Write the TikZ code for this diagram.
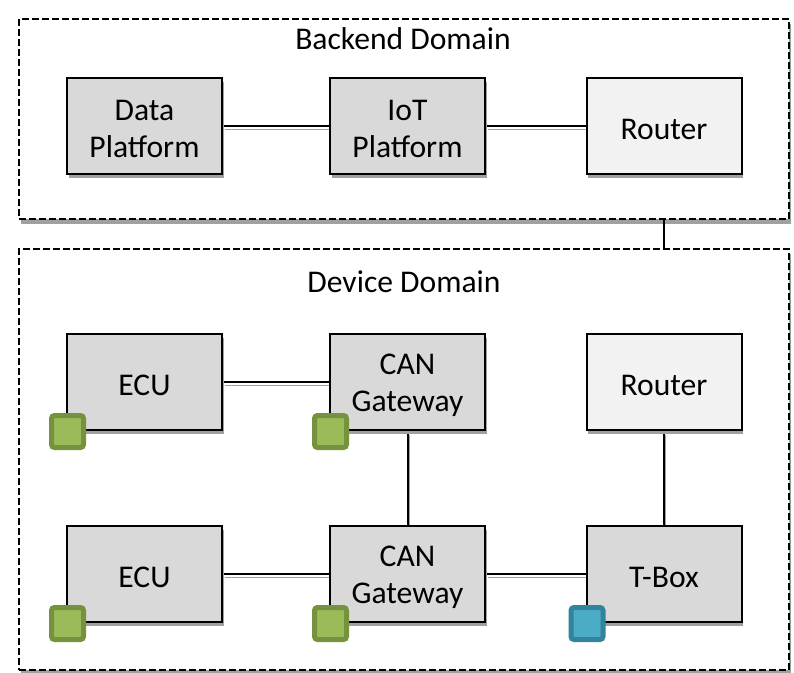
\documentclass[tikz,border=0pt]{standalone}
\usepackage{fontspec}
\setmainfont{Carlito}
\usetikzlibrary{shadows}

\definecolor{boxfill}{HTML}{D9D9D9}
\definecolor{routerfill}{HTML}{F2F2F2}
\definecolor{shadowgray}{HTML}{A0A0A0}
\definecolor{sqgreen}{HTML}{9BBB59}
\definecolor{sqgreenedge}{HTML}{76923C}
\definecolor{sqblue}{HTML}{4BACC6}
\definecolor{sqblueedge}{HTML}{31849B}

\pgfdeclarelayer{domainlayer}
\pgfdeclarelayer{linklayer}
\pgfsetlayers{domainlayer,linklayer,main}

\begin{document}
\begin{tikzpicture}[x=1pt, y=-1pt,
  font=\fontsize{31.6}{36.7}\selectfont,
  domainframe/.style={draw=black, line width=2pt, fill=white,
    dash pattern=on 7pt off 3pt, minimum width=770pt, inner sep=0pt,
    drop shadow={shadow xshift=2pt, shadow yshift=-5pt, fill=shadowgray, opacity=1}},
  domainlabel/.style={anchor=base, inner sep=0pt},
  unit/.style={draw=black, line width=2pt, fill=boxfill,
    minimum width=155pt, minimum height=96pt, inner sep=0pt,
    drop shadow={shadow xshift=1.5pt, shadow yshift=-4pt, fill=shadowgray, opacity=1}},
  routerunit/.style={unit, fill=routerfill},
  unittext/.style={align=center, inner sep=0pt, yshift=-3pt},
  marker/.style={rounded corners=3pt, line width=5pt, minimum size=32pt, inner sep=0pt},
  greenmark/.style={marker, fill=sqgreen, draw=sqgreenedge},
  bluemark/.style={marker, fill=sqblue, draw=sqblueedge},
  conn/.style={draw=black, line width=2pt,
    preaction={draw=shadowgray, line width=1.5pt,
      transform canvas={xshift=1.5pt, yshift=-3.5pt}}},
  plainlink/.style={draw=black, line width=2pt}
]
\useasboundingbox (0,0) rectangle (794,672);

% domain frames
\begin{pgfonlayer}{domainlayer}
  \node[domainframe, minimum height=200pt] (backend) at (404,119) {};
  \node[domainframe, minimum height=421pt] (device) at (404,459.5) {};
\end{pgfonlayer}
\node[domainlabel] (backendlabel) at (403,49.3) {Backend Domain};
\node[domainlabel] (devicelabel) at (404,292) {Device Domain};

% backend units
\node[unit, label={[unittext]center:{Data\\Platform}}] (data) at (144.5,126) {};
\node[unit, label={[unittext]center:{IoT\\Platform}}] (iot) at (407.5,126) {};
\node[routerunit, label={[unittext]center:Router}] (brouter) at (664,126) {};

% device units
\node[unit, label={[unittext]center:ECU}] (ecua) at (144.5,382) {};
\node[unit, label={[unittext]center:{CAN\\Gateway}}] (gwa) at (407.5,382) {};
\node[routerunit, label={[unittext]center:Router}] (drouter) at (664,382) {};
\node[unit, label={[unittext]center:ECU}] (ecub) at (144.5,574) {};
\node[unit, label={[unittext]center:{CAN\\Gateway}}] (gwb) at (407.5,574) {};
\node[unit, label={[unittext]center:T-Box}] (tbox) at (664,574) {};

% corner markers
\node[greenmark] (ecuamark) at ([shift={(1.5,0.5)}]ecua.south west) {};
\node[greenmark] (gwamark) at ([shift={(1.5,0.5)}]gwa.south west) {};
\node[greenmark] (ecubmark) at ([shift={(1.5,0.5)}]ecub.south west) {};
\node[greenmark] (gwbmark) at ([shift={(1.5,0.5)}]gwb.south west) {};
\node[bluemark] (tboxmark) at ([shift={(1.5,0.5)}]tbox.south west) {};

% links
\begin{pgfonlayer}{linklayer}
  \draw[conn] (data.east) -- (iot.west);
  \draw[conn] (iot.east) -- (brouter.west);
  \draw[conn] (ecua.east) -- (gwa.west);
  \draw[conn] (ecub.east) -- (gwb.west);
  \draw[conn] (gwb.east) -- (tbox.west);
  \draw[conn] (gwa.south) -- (gwb.north);
  \draw[conn] (drouter.south) -- (tbox.north);
\end{pgfonlayer}
\draw[plainlink] (backend.south -| brouter.south) -- (device.north -| brouter.south);
\end{tikzpicture}
\end{document}
